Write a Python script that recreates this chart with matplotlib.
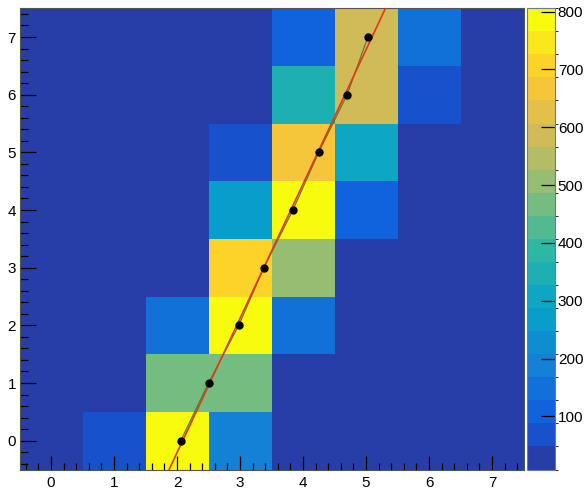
import numpy as np
import matplotlib
matplotlib.use("Agg")
import matplotlib.pyplot as plt
from matplotlib.colors import ListedColormap, BoundaryNorm, LinearSegmentedColormap

plt.rcParams['font.family'] = ['Liberation Sans', 'DejaVu Sans']

# ---- data -------------------------------------------------------------
x_bins = [0, 1, 2, 3, 4, 5, 6, 7]
y_bins = [0, 1, 2, 3, 4, 5, 6, 7]

# bin contents, one row per y bin (y = 0 ... 7), columns are x = 0 ... 7
counts = [
    [0,  70, 800, 170,   0,   0,   0, 0],
    [0,   0, 468, 468,   0,   0,   0, 0],
    [0,   0, 160, 800, 130,   0,   0, 0],
    [0,   0,   0, 690, 510,   0,   0, 0],
    [0,   0,   0, 270, 790,  90,   0, 0],
    [0,   0,   0,  85, 650, 320,   0, 0],
    [0,   0,   0,   0, 350, 590,  85, 0],
    [0,   0,   0,   0, 120, 590, 140, 0],
]

# measured points (x position for each y row)
point_x = [2.06, 2.50, 2.98, 3.38, 3.84, 4.25, 4.70, 5.03]
point_y = [0, 1, 2, 3, 4, 5, 6, 7]

z_min, z_max = 8.0, 806.0
n_contours = 20
cbar_ticks = [100, 200, 300, 400, 500, 600, 700, 800]
x_ticks = [0, 1, 2, 3, 4, 5, 6, 7]
y_ticks = [0, 1, 2, 3, 4, 5, 6, 7]

# ---- "bird" palette, sampled into discrete contour colours -------------
stops = [0.0, 0.125, 0.25, 0.375, 0.5, 0.625, 0.75, 0.875, 1.0]
red = [0.2082, 0.0592, 0.0780, 0.0232, 0.1802, 0.5301, 0.8186, 0.9956, 0.9764]
green = [0.1664, 0.3599, 0.5041, 0.6419, 0.7178, 0.7492, 0.7328, 0.7862, 0.9832]
blue = [0.5293, 0.8684, 0.8385, 0.7914, 0.6425, 0.4662, 0.3499, 0.1968, 0.0539]
bird = LinearSegmentedColormap.from_list(
    "bird", list(zip(stops, zip(red, green, blue))), N=255)
band_colors = [bird(int((i + 0.99) * 255 / n_contours) / 254.0)
               for i in range(n_contours)]
cmap = ListedColormap(band_colors)
cmap.set_under(band_colors[0])
cmap.set_over(band_colors[-1])
levels = np.linspace(z_min, z_max, n_contours + 1)
norm = BoundaryNorm(levels, n_contours, extend='neither', clip=True)

# ---- figure ------------------------------------------------------------
W, H = 587, 492
fig = plt.figure(figsize=(W / 100, H / 100), dpi=100)
ax = fig.add_axes([19.5 / W, 22.5 / H, 504 / W, 461.3 / H])
cax = fig.add_axes([527 / W, 22.5 / H, 28 / W, 461.3 / H])

z = np.clip(np.array(counts, dtype=float), z_min, z_max)
xe = np.arange(len(x_bins) + 1) - 0.5
ye = np.arange(len(y_bins) + 1) - 0.5
mesh = ax.pcolormesh(xe, ye, z, cmap=cmap, norm=norm, shading='flat')

# connecting line through the points
ax.plot(point_x, point_y, color='#4d7a34', lw=0.8, zorder=3)

# straight-line fit x = a + b*y through the points
b, a = np.polyfit(point_y, point_x, 1)
yy = np.array([-0.5, 7.5])
ax.plot(a + b * yy, yy, color='#e0391b', lw=1.2, zorder=4)

ax.plot(point_x, point_y, 'o', color='black', ms=5, zorder=5)

ax.set_xlim(-0.5, 7.5)
ax.set_ylim(-0.5, 7.5)
ax.set_xticks(x_ticks)
ax.set_yticks(y_ticks)
ax.set_xticks(np.arange(-0.4, 7.5, 0.2), minor=True)
ax.set_yticks(np.arange(-0.4, 7.5, 0.2), minor=True)
ax.tick_params(axis='x', which='major', direction='in', length=10, width=0.9,
               labelsize=11, pad=5)
ax.tick_params(axis='x', which='minor', direction='in', length=5, width=0.9)
ax.tick_params(axis='y', which='major', direction='in', length=11.5, width=0.9,
               labelsize=11, pad=2.5)
ax.tick_params(axis='y', which='minor', direction='in', length=5.8, width=0.9)
for s in ax.spines.values():
    s.set_color('#555555')
    s.set_linewidth(0.8)

# colour scale
cb = fig.colorbar(mesh, cax=cax, ticks=cbar_ticks)
cb.outline.set_edgecolor('#6a7a90')
cb.outline.set_linewidth(0.8)
cax.tick_params(axis='y', direction='in', length=10, width=0.9,
                labelsize=11, pad=2, right=True, left=False)
cax.set_ylim(z_min, z_max)

fig.savefig("out.png", dpi=100)
